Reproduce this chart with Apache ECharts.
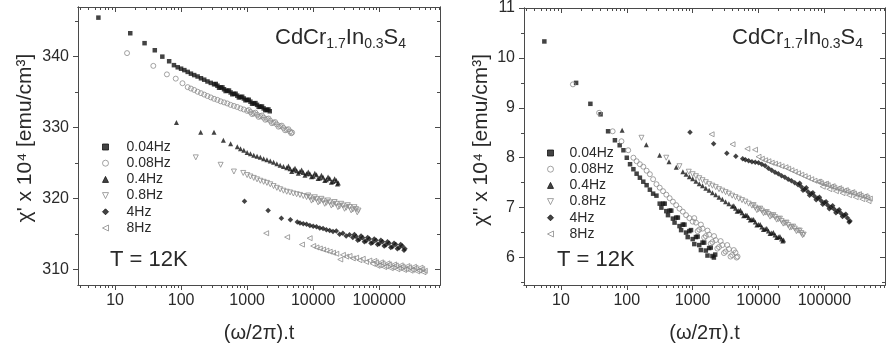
<!DOCTYPE html>
<html><head><meta charset="utf-8">
<script src="https://cdn.jsdelivr.net/npm/echarts@6/dist/echarts.min.js"></script>
<style>html,body{margin:0;padding:0;background:#fff}#c{width:890px;height:351px}</style>
</head><body><div id="c"></div>
<script>
// ---------- data ----------
const freqNames = ['0.04Hz', '0.08Hz', '0.4Hz', '0.8Hz', '4Hz', '8Hz'];

// x = (omega/2pi).t  (shared by both panels)
const x004 = [5.6, 17, 28, 40, 52, 66, 78, 89, 100, 112, 126, 141, 158, 178, 200, 224, 251, 282, 316, 355, 398, 447, 501, 562, 631, 708, 794, 891, 1000, 1122, 1259, 1413, 1585, 1778, 1995, 2200];
const x008 = [15.2, 38, 61, 83, 105, 126, 141, 158, 178, 200, 224, 251, 282, 316, 355, 398, 447, 501, 562, 631, 708, 794, 891, 1000, 1122, 1259, 1413, 1585, 1778, 1995, 2239, 2512, 2818, 3162, 3548, 3981, 4467, 4800];
const x04 = [85, 198, 315, 437, 563, 710, 794, 891, 1000, 1122, 1259, 1413, 1585, 1778, 1995, 2239, 2512, 2818, 3162, 3548, 3981, 4467, 5012, 5623, 6310, 7079, 7943, 8913, 10000, 11220, 12589, 14125, 15849, 17783, 19953, 22387, 24000];
const x08 = [167, 397, 631, 873, 1000, 1122, 1259, 1413, 1585, 1778, 1995, 2239, 2512, 2818, 3162, 3548, 3981, 4467, 5012, 5623, 6310, 7079, 7943, 8913, 10000, 11220, 12589, 14125, 15849, 17783, 19953, 22387, 25119, 28184, 31623, 35481, 39811, 44668, 48500];
const x4 = [912, 2080, 3300, 4520, 5750, 6310, 7079, 7943, 8913, 10000, 11220, 12589, 14125, 15849, 17783, 19953, 22387, 25119, 28184, 31623, 35481, 39811, 44668, 50119, 56234, 63096, 70795, 79433, 89125, 100000, 112202, 125893, 141254, 158489, 177828, 199526, 223872, 245000];
const x8 = [1940, 4030, 6760, 8840, 10000, 11220, 12589, 14125, 15849, 17783, 19953, 22387, 25700, 28184, 31623, 35481, 39811, 44668, 50119, 56234, 63096, 70795, 79433, 89125, 100000, 112202, 125893, 141254, 158489, 177828, 199526, 223872, 251189, 281838, 316228, 354813, 398107, 446684, 490000];

// chi' x 10^4 (left panel)
const re004 = [345.5, 343.3, 341.9, 340.9, 340.0, 339.35, 338.8, 338.5, 338.3, 338.1, 337.85, 337.6, 337.4, 337.2, 336.95, 336.75, 336.5, 336.3, 336.1, 335.9, 335.65, 335.4, 335.2, 334.95, 334.75, 334.5, 334.3, 334.1, 333.9, 333.65, 333.4, 333.2, 332.95, 332.7, 332.5, 332.3];
const re008 = [340.5, 338.7, 337.5, 336.9, 336.25, 335.7, 335.5, 335.3, 335.05, 334.85, 334.65, 334.45, 334.25, 334.05, 333.9, 333.7, 333.55, 333.4, 333.2, 333.05, 332.9, 332.7, 332.55, 332.35, 332.2, 332.0, 331.8, 331.6, 331.4, 331.2, 330.95, 330.7, 330.45, 330.2, 329.95, 329.7, 329.45, 329.3];
const re04 = [330.7, 329.35, 329.35, 328.2, 327.7, 327.3, 327.0, 326.8, 326.5, 326.3, 326.1, 325.95, 325.8, 325.6, 325.45, 325.3, 325.1, 324.9, 324.7, 324.5, 324.35, 324.2, 324.05, 323.9, 323.8, 323.65, 323.5, 323.5, 323.15, 323.35, 322.9, 323.0, 322.65, 322.8, 322.4, 322.55, 322.2];
const re08 = [325.8, 324.75, 323.8, 323.6, 323.3, 323.1, 322.9, 322.7, 322.5, 322.35, 322.2, 322.0, 321.75, 321.5, 321.3, 321.1, 320.95, 320.85, 320.7, 320.6, 320.5, 320.35, 320.2, 320.15, 319.85, 319.9, 319.6, 319.7, 319.4, 319.45, 319.15, 319.25, 318.9, 319.0, 318.7, 318.8, 318.45, 318.5, 318.3];
const re4 = [319.6, 318.3, 317.2, 317.0, 316.7, 316.55, 316.45, 316.35, 316.2, 316.1, 316.0, 315.85, 315.75, 315.6, 315.5, 315.35, 315.4, 314.95, 315.1, 314.7, 314.9, 314.5, 314.65, 314.25, 314.45, 314.0, 314.3, 313.8, 314.1, 313.6, 313.9, 313.45, 313.7, 313.2, 313.5, 313.05, 313.3, 312.9];
const re8 = [315.1, 314.55, 313.5, 314.4, 313.3, 313.1, 312.95, 312.8, 312.65, 312.5, 312.35, 312.2, 311.4, 312.05, 311.8, 311.9, 311.55, 311.65, 311.3, 311.5, 311.05, 311.25, 310.8, 311.0, 310.6, 310.85, 310.45, 310.7, 310.3, 310.55, 310.2, 310.4, 310.05, 310.3, 309.95, 310.2, 309.85, 310.05, 309.8];

// chi'' x 10^4 (right panel)
const im004 = [10.33, 9.5, 9.08, 8.87, 8.53, 8.35, 8.25, 8.15, 8.0, 7.87, 7.77, 7.68, 7.6, 7.52, 7.45, 7.36, 7.28, 7.24, 7.08, 7.08, 6.93, 6.94, 6.78, 6.8, 6.63, 6.66, 6.5, 6.53, 6.37, 6.41, 6.25, 6.3, 6.14, 6.19, 6.03, 6.06];
const im008 = [9.47, 8.9, 8.53, 8.33, 8.15, 8.0, 7.93, 7.87, 7.82, 7.74, 7.67, 7.57, 7.47, 7.4, 7.33, 7.26, 7.19, 7.12, 7.05, 6.98, 6.92, 6.85, 6.79, 6.72, 6.7, 6.56, 6.58, 6.43, 6.46, 6.31, 6.35, 6.21, 6.25, 6.12, 6.17, 6.05, 6.1, 6.02];
const im04 = [8.55, 8.26, 8.05, 7.92, 7.81, 7.72, 7.67, 7.62, 7.58, 7.53, 7.48, 7.44, 7.39, 7.35, 7.3, 7.26, 7.21, 7.17, 7.12, 7.08, 7.03, 6.99, 6.94, 6.9, 6.85, 6.8, 6.76, 6.71, 6.66, 6.61, 6.57, 6.53, 6.49, 6.45, 6.41, 6.37, 6.35];
const im08 = [8.4, 8.0, 7.83, 7.72, 7.67, 7.63, 7.59, 7.55, 7.51, 7.47, 7.44, 7.41, 7.37, 7.34, 7.31, 7.28, 7.24, 7.21, 7.18, 7.15, 7.12, 7.08, 7.04, 7.0, 6.97, 6.94, 6.9, 6.87, 6.84, 6.81, 6.77, 6.73, 6.69, 6.65, 6.61, 6.58, 6.54, 6.49, 6.46];
const im4 = [8.51, 8.28, 8.09, 8.03, 7.98, 7.96, 7.94, 7.92, 7.91, 7.9, 7.87, 7.84, 7.79, 7.75, 7.71, 7.68, 7.64, 7.61, 7.57, 7.54, 7.5, 7.46, 7.42, 7.37, 7.32, 7.28, 7.23, 7.19, 7.14, 7.1, 7.05, 7.01, 6.97, 6.93, 6.89, 6.85, 6.79, 6.73];
const im8 = [8.47, 8.27, 8.18, 8.16, 8.02, 7.98, 7.95, 7.93, 7.9, 7.88, 7.86, 7.83, 7.81, 7.78, 7.75, 7.72, 7.69, 7.66, 7.63, 7.6, 7.57, 7.54, 7.52, 7.49, 7.47, 7.45, 7.42, 7.4, 7.38, 7.36, 7.34, 7.32, 7.3, 7.28, 7.26, 7.24, 7.22, 7.2, 7.18];

// extra points in the dense, noisy tail of each run (upper / lower edge of the band)
const x004t = [335, 376, 422, 473, 531, 596, 668, 750, 841, 944, 1059, 1189, 1334, 1496, 1679, 1884, 2100];
const re004t = [336.15, 335.62, 335.67, 335.15, 335.22, 334.7, 334.77, 334.25, 334.35, 333.85, 333.92, 333.37, 333.45, 332.92, 332.97, 332.45, 332.55];
const im004t = [7.0, 7.08, 6.85, 6.94, 6.7, 6.8, 6.55, 6.66, 6.41, 6.55, 6.27, 6.42, 6.15, 6.3, 6.04, 6.2, 6.0];
const x008t = [1059, 1189, 1334, 1496, 1679, 1884, 2113, 2371, 2661, 2985, 3350, 3758, 4217, 4650];
const re008t = [332.47, 331.9, 332.1, 331.5, 331.7, 331.1, 331.27, 330.62, 330.77, 330.12, 330.27, 329.62, 329.77, 329.2];
const im008t = [6.79, 6.53, 6.66, 6.4, 6.54, 6.28, 6.43, 6.18, 6.33, 6.09, 6.25, 6.02, 6.15, 6.0];
const x04t = [4217, 4732, 5309, 5957, 6683, 7499, 8414, 9441, 10593, 11885, 13335, 14962, 16788, 18836, 21135, 23300];
const re04t = [324.57, 323.82, 324.27, 323.55, 324.02, 323.27, 323.75, 323.05, 323.55, 322.82, 323.27, 322.55, 323.02, 322.3, 322.77, 322.05];
const im04t = [7.04, 6.93, 6.95, 6.84, 6.85, 6.75, 6.76, 6.65, 6.66, 6.56, 6.58, 6.48, 6.5, 6.4, 6.42, 6.33];
const x08t = [8414, 9441, 10593, 11885, 13335, 14962, 16788, 18836, 21135, 23714, 26607, 29854, 33497, 37584, 42170, 46500];
const re08t = [320.42, 319.7, 320.17, 319.45, 319.95, 319.25, 319.72, 319.0, 319.5, 318.77, 319.25, 318.55, 319.05, 318.32, 318.77, 318.05];
const im08t = [7.05, 6.95, 6.98, 6.89, 6.91, 6.82, 6.85, 6.76, 6.78, 6.68, 6.7, 6.6, 6.62, 6.53, 6.54, 6.45];
const x4t = [42170, 47315, 53088, 59566, 66834, 74989, 84140, 94406, 105925, 118850, 133352, 149624, 167880, 188365, 211349, 237137];
const re4t = [314.92, 314.1, 314.7, 313.9, 314.5, 313.7, 314.3, 313.5, 314.1, 313.3, 313.9, 313.1, 313.7, 312.92, 313.52, 312.7];
const im4t = [7.49, 7.35, 7.4, 7.25, 7.3, 7.16, 7.21, 7.07, 7.12, 6.98, 7.04, 6.9, 6.96, 6.82, 6.87, 6.71];
const x8t = [84140, 94406, 105925, 118850, 133352, 149624, 167880, 188365, 211349, 237137, 266073, 298538, 334965, 375837, 421697, 468000];
const re8t = [311.2, 310.5, 311.0, 310.32, 310.85, 310.17, 310.7, 310.02, 310.57, 309.92, 310.47, 309.82, 310.37, 309.72, 310.25, 309.6];
const im8t = [7.52, 7.42, 7.48, 7.37, 7.43, 7.33, 7.39, 7.29, 7.35, 7.25, 7.31, 7.21, 7.27, 7.17, 7.23, 7.13];

// axis ticks
const xMajorTicks = [10, 100, 1000, 10000, 100000];
const xMinorTicks = [3, 4, 5, 6, 7, 8, 9, 20, 30, 40, 50, 60, 70, 80, 90, 200, 300, 400, 500, 600, 700, 800, 900,
  2000, 3000, 4000, 5000, 6000, 7000, 8000, 9000, 20000, 30000, 40000, 50000, 60000, 70000, 80000, 90000,
  200000, 300000, 400000, 500000, 600000, 700000, 800000];
const yLeftMajor = [310, 320, 330, 340];
const yLeftMinor = [315, 325, 335, 345];
const yRightMajor = [6, 7, 8, 9, 10, 11];
const yRightMinor = [5.5, 6.5, 7.5, 8.5, 9.5, 10.5];

const runs = [
  {x: x004, re: re004, im: im004, xt: x004t, ret: re004t, imt: im004t},
  {x: x008, re: re008, im: im008, xt: x008t, ret: re008t, imt: im008t},
  {x: x04, re: re04, im: im04, xt: x04t, ret: re04t, imt: im04t},
  {x: x08, re: re08, im: im08, xt: x08t, ret: re08t, imt: im08t},
  {x: x4, re: re4, im: im4, xt: x4t, ret: re4t, imt: im4t},
  {x: x8, re: re8, im: im8, xt: x8t, ret: re8t, imt: im8t}
];

// ---------- styling ----------
const FONT = '"Liberation Sans", Arial, Helvetica, sans-serif';
const AX = '#4a4a4a';
const TXT = '#2a2a2a';
const BLACK = '#141414';
const GREY = '#8c8c8c';
const symbols = ['rect', 'circle', 'triangle', 'path://M0,0L10,0L5,10Z', 'diamond', 'path://M10,0L10,10L0,5Z'];
const filled = [true, false, true, false, true, false];
const sizes = [4.5, 5, 5, 5, 5.5, 5];

const XMIN = 2.75, XMAX = 832000;

function xAxesFor(g) {
  const base = {type: 'log', logBase: 10, min: XMIN, max: XMAX, gridIndex: g,
    splitLine: {show: false}, axisLine: {show: true, onZero: false, lineStyle: {color: AX, width: 1}}};
  return [
    Object.assign({}, base, {position: 'bottom',
      axisTick: {show: true, inside: false, length: 5, customValues: xMajorTicks, lineStyle: {color: AX}},
      axisLabel: {show: true, customValues: xMajorTicks, formatter: v => String(Math.round(v)), fontSize: 16, color: TXT, margin: 8, fontFamily: FONT},
      name: '(ω/2π).t', nameLocation: 'middle', nameGap: 38,
      nameTextStyle: {fontSize: 20, color: TXT, fontFamily: FONT}}),
    Object.assign({}, base, {position: 'bottom',
      axisTick: {show: true, inside: false, length: 3, customValues: xMinorTicks, lineStyle: {color: AX}},
      axisLabel: {show: false}}),
    Object.assign({}, base, {position: 'top',
      axisTick: {show: true, inside: true, length: 5, customValues: xMajorTicks, lineStyle: {color: AX}},
      axisLabel: {show: false}}),
    Object.assign({}, base, {position: 'top',
      axisTick: {show: true, inside: true, length: 3, customValues: xMinorTicks, lineStyle: {color: AX}},
      axisLabel: {show: false}})
  ];
}
function yAxesFor(g, mn, mx, major, minor) {
  const base = {type: 'value', min: mn, max: mx, gridIndex: g, scale: true,
    splitLine: {show: false}, axisLine: {show: true, onZero: false, lineStyle: {color: AX, width: 1}}};
  return [
    Object.assign({}, base, {position: 'left',
      axisTick: {show: true, inside: false, length: 5, customValues: major, lineStyle: {color: AX}},
      axisLabel: {show: true, customValues: major, fontSize: 16, color: TXT, margin: 9, fontFamily: FONT}}),
    Object.assign({}, base, {position: 'left',
      axisTick: {show: true, inside: false, length: 3, customValues: minor, lineStyle: {color: AX}},
      axisLabel: {show: false}}),
    Object.assign({}, base, {position: 'right',
      axisTick: {show: true, inside: true, length: 5, customValues: major, lineStyle: {color: AX}},
      axisLabel: {show: false}}),
    Object.assign({}, base, {position: 'right',
      axisTick: {show: true, inside: true, length: 3, customValues: minor, lineStyle: {color: AX}},
      axisLabel: {show: false}})
  ];
}

function pairs(xs, ys) {
  const n = Math.min(xs.length, ys.length), out = [];
  for (let j = 0; j < n; j++) out.push([xs[j], ys[j]]);
  return out;
}

const series = [];
['re', 'im'].forEach((key, g) => {
  freqNames.forEach((name, i) => {
    const r = runs[i];
    const data = pairs(r.x, r[key]).concat(pairs(r.xt, r[key + 't']));
    const isF = filled[i];
    series.push({
      type: 'scatter', name: name, xAxisIndex: g * 4, yAxisIndex: g * 4,
      symbol: symbols[i], symbolSize: sizes[i], symbolKeepAspect: true, data: data,
      itemStyle: isF ? {color: BLACK, borderColor: BLACK, borderWidth: 0}
                     : {color: 'rgba(255,255,255,0)', borderColor: GREY, borderWidth: 1},
      emphasis: {disabled: true}, animation: false, z: 2
    });
  });
});

function legendAt(left, top, pad) {
  return {show: true, orient: 'vertical', left: left, top: top, data: freqNames,
    itemWidth: 6, itemHeight: 6, itemGap: 2.2, selectedMode: false, symbolKeepAspect: true,
    itemStyle: {borderWidth: 1},
    textStyle: {fontSize: 14, color: TXT, fontFamily: FONT, lineHeight: 14, padding: [0, 0, 0, pad]}};
}

function formula(x, y) {
  return {type: 'text', left: x, top: y, silent: true,
    style: {text: '{a|CdCr}{b|1.7}{a|In}{b|0.3}{a|S}{b|4}', fill: TXT, font: '22px ' + FONT,
      rich: {a: {fontSize: 22, fontFamily: FONT, lineHeight: 24, verticalAlign: 'top', fill: TXT},
             b: {fontSize: 14, fontFamily: FONT, lineHeight: 8, verticalAlign: 'bottom', fill: TXT}}}};
}
function plain(x, y, s, size, rot) {
  return {type: 'text', x: x, y: y, rotation: rot || 0, silent: true,
    style: {text: s, fill: TXT, fontSize: size, fontFamily: FONT,
      textAlign: rot ? 'center' : 'left', textVerticalAlign: 'middle', verticalAlign: 'middle', align: rot ? 'center' : 'left'}};
}

const option = {
  backgroundColor: '#fff',
  animation: false,
  grid: [
    {left: 78, right: 450, top: 7, bottom: 66},
    {left: 524, right: 5, top: 7, bottom: 66}
  ],
  xAxis: xAxesFor(0).concat(xAxesFor(1)),
  yAxis: yAxesFor(0, 307.8, 347, yLeftMajor, yLeftMinor).concat(yAxesFor(1, 5.45, 11, yRightMajor, yRightMinor)),
  legend: [legendAt(97, 135, 13), legendAt(542, 141, 11)],
  series: series,
  graphic: [
    formula(275, 27), formula(732, 27),
    plain(110, 260, 'T = 12K', 22), plain(557, 260, 'T = 12K', 22),
    plain(25, 138, "χ' x 10⁴ [emu/cm³]", 21, Math.PI / 2),
    plain(481, 140, 'χ" x 10⁴ [emu/cm³]', 21, Math.PI / 2)
  ]
};

const chart = echarts.init(document.getElementById('c'), null, {renderer: 'canvas'});
chart.setOption(option);
</script>
</body></html>
